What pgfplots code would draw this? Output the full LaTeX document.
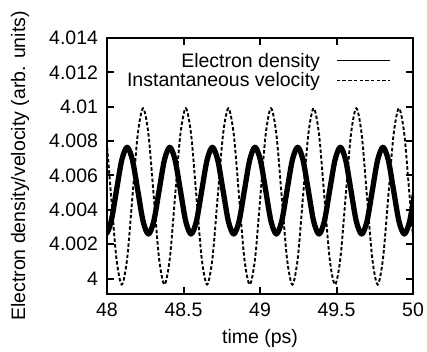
\documentclass[border=0pt]{standalone}
\usepackage{fontspec}
\setmainfont{Liberation Sans}
\usepackage{pgfplots}
\usepackage{pgfplotstable}
\pgfplotsset{compat=1.18}
\pgfplotstableread{
t dens vel
47.9573 4.00333 4.00991
47.9921 4.00259 4.00841
48.0270 4.00333 4.00478
48.0618 4.00512 4.00115
48.0967 4.00690 3.99965
48.1315 4.00764 4.00115
48.1663 4.00690 4.00478
48.2012 4.00512 4.00841
48.2360 4.00333 4.00991
48.2708 4.00259 4.00841
48.3057 4.00333 4.00478
48.3405 4.00512 4.00115
48.3754 4.00690 3.99965
48.4102 4.00764 4.00115
48.4450 4.00690 4.00478
48.4799 4.00512 4.00841
48.5147 4.00333 4.00991
48.5495 4.00259 4.00841
48.5844 4.00333 4.00478
48.6192 4.00512 4.00115
48.6541 4.00690 3.99965
48.6889 4.00764 4.00115
48.7237 4.00690 4.00478
48.7586 4.00512 4.00841
48.7934 4.00333 4.00991
48.8282 4.00259 4.00841
48.8631 4.00333 4.00478
48.8979 4.00512 4.00115
48.9328 4.00690 3.99965
48.9676 4.00764 4.00115
49.0024 4.00690 4.00478
49.0373 4.00512 4.00841
49.0721 4.00333 4.00991
49.1069 4.00259 4.00841
49.1418 4.00333 4.00478
49.1766 4.00512 4.00115
49.2115 4.00690 3.99965
49.2463 4.00764 4.00115
49.2811 4.00690 4.00478
49.3160 4.00512 4.00841
49.3508 4.00333 4.00991
49.3856 4.00259 4.00841
49.4205 4.00333 4.00478
49.4553 4.00512 4.00115
49.4902 4.00690 3.99965
49.5250 4.00764 4.00115
49.5598 4.00690 4.00478
49.5947 4.00512 4.00841
49.6295 4.00333 4.00991
49.6643 4.00259 4.00841
49.6992 4.00333 4.00478
49.7340 4.00512 4.00115
49.7689 4.00690 3.99965
49.8037 4.00764 4.00115
49.8385 4.00690 4.00478
49.8734 4.00512 4.00841
49.9082 4.00333 4.00991
49.9430 4.00259 4.00841
49.9779 4.00333 4.00478
50.0127 4.00512 4.00115
}\datatable

\begin{document}
\begin{tikzpicture}
\path[use as bounding box] (-107pt,-57pt) rectangle (320pt,294pt);
\begin{axis}[
  scale only axis, width=306pt, height=256pt,
  xmin=48, xmax=50, ymin=3.9991, ymax=4.014,
  scaled x ticks=false, scaled y ticks=false,
  xtick={48,48.5,49,49.5,50}, xticklabels={48,48.5,49,49.5,50},
  ytick={4,4.002,4.004,4.006,4.008,4.01,4.012,4.014},
  yticklabels={4,4.002,4.004,4.006,4.008,4.01,4.012,4.014},
  tick align=inside, major tick length=7pt,
  axis line style={line width=2pt},
  every tick/.style={black, line width=2pt},
  font=\fontsize{19.5}{23}\selectfont,
  ticklabel style={font=\fontsize{19.5}{23}\selectfont},
  /pgf/number format/assume math mode=true,
  xticklabel style={yshift=-5.5pt},
  yticklabel style={xshift=-5.5pt},
  xlabel={time (ps)},
  ylabel={Electron density/velocity (arb. units)},
  xlabel style={at={(axis description cs:0.5,0)}, anchor=north, yshift=-31.5pt},
  ylabel style={at={(axis description cs:-0.2843,0.5)}, anchor=center},
  legend plot pos=right, legend cell align=right,
  legend image code/.code={\path (0pt,0pt); \draw[#1] (14pt,0pt) -- (67pt,0pt);},
  legend style={draw=none, fill=none, at={(axis description cs:0.937,0.958)},
    anchor=north east, font=\fontsize{19.5}{23}\selectfont, row sep=0pt},
]
\addplot[black, line width=5.3pt, smooth, line join=round, forget plot] table[x=t, y=dens] {\datatable};
\addplot[black, line width=1.9pt, dash pattern=on 3.5pt off 2.2pt, smooth, forget plot] table[x=t, y=vel] {\datatable};
\addlegendimage{black, line width=0.7pt}
\addlegendentry{Electron density}
\addlegendimage{black, line width=1.5pt, dash pattern=on 3.5pt off 2.2pt}
\addlegendentry{Instantaneous velocity}
\end{axis}
\end{tikzpicture}
\end{document}
